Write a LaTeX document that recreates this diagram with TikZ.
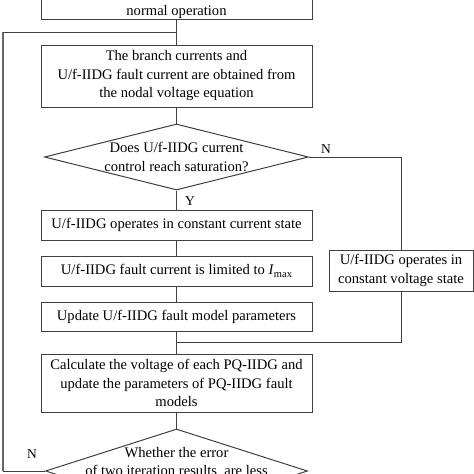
\documentclass[tikz,border=0pt]{standalone}
\usepackage{fontspec}
\setmainfont{Liberation Serif}
\usetikzlibrary{shapes.geometric}
\begin{document}
\begin{tikzpicture}[x=1pt,y=-1pt,
  every node/.style={font=\fontsize{14.6}{18.5}\selectfont, text=black},
  box/.style={draw=black!75, line width=1pt, rectangle, inner sep=0pt, minimum width=271pt, align=center},
  dia/.style={draw=black!75, line width=1pt, diamond, inner sep=0pt},
  conn/.style={draw=black!75, line width=1pt},
  fb/.style={draw=black!60, line width=1.6pt},
  lab/.style={font=\fontsize{13.5}{15}\selectfont}]
\useasboundingbox (0,0) rectangle (474,474);
\clip (0,0) rectangle (474,474);
% boxes
\node[box, anchor=south, minimum height=45pt, text height=40pt, text depth=4pt] (top) at (176.5,20) {normal operation};
\node[box, minimum height=62pt] (b2) at (176.5,76) {The branch currents and\\U/f-IIDG fault current are obtained from\\the nodal voltage equation};
\node[dia, minimum width=264pt, minimum height=66pt] (d1) at (176.5,157) {};
\node[align=center] (d1t) at (176.5,157) {Does U/f-IIDG current\\control reach saturation?};
\node[box, minimum height=30pt] (b3) at (176.5,225) {U/f-IIDG operates in constant current state};
\node[box, minimum height=30pt] (b4) at (176.5,271) {U/f-IIDG fault current is limited to \textit{I}\raisebox{-0.35ex}{\fontsize{10.5}{10.5}\selectfont max}};
\node[box, minimum height=29pt] (b5) at (176.5,316.5) {Update U/f-IIDG fault model parameters};
\node[box, minimum width=144pt, minimum height=41pt] (rb) at (401,270.5) {U/f-IIDG operates in\\constant voltage state};
\node[box, minimum height=58pt] (b6) at (176.5,383) {Calculate the voltage of each PQ-IIDG and\\update the parameters of PQ-IIDG fault\\models};
\node[dia, minimum width=262pt, minimum height=84pt] (d2) at (176.5,471) {};
\node[align=center] (d2t) at (176.5,461.5) {Whether the error\\of two iteration results\ \ are less};
% labels
\node[lab] (ly) at (190,201) {Y};
\node[lab] (ln1) at (326,149) {N};
\node[lab] (ln2) at (32,454) {N};
% coordinates
\coordinate (j1) at (176.5,32);
\coordinate (j2) at (176.5,342);
\coordinate (c1) at (3,471);
\coordinate (c2) at (3,32);
\coordinate (c3) at (401,157);
% connectors
\draw[conn] (top.south) -- (b2.north);
\draw[conn] (b2.south) -- (d1.north);
\draw[conn] (d1.south) -- (b3.north);
\draw[conn] (b3.south) -- (b4.north);
\draw[conn] (b4.south) -- (b5.north);
\draw[conn] (b5.south) -- (b6.north);
\draw[conn] (b6.south) -- (d2.north);
\draw[conn] (d1.east) -- (c3) -- (rb.north);
\draw[conn] (rb.south) |- (j2);
\draw[conn] (d2.west) -- (c1);
\draw[fb] (c1) -- (c2);
\draw[conn] (c2) -- (j1);
\end{tikzpicture}
\end{document}
